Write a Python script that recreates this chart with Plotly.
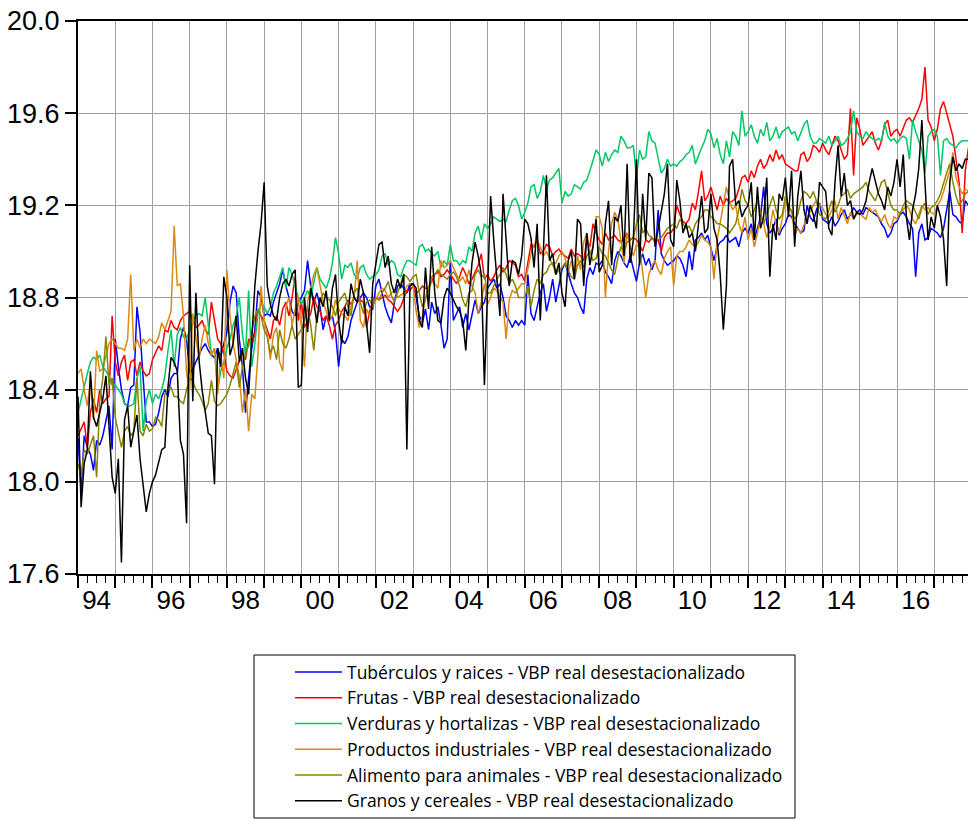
import plotly.graph_objects as go

start_year = 1994
names = [
    "Tubérculos y raices - VBP real desestacionalizado",
    "Frutas - VBP real desestacionalizado",
    "Verduras y hortalizas - VBP real desestacionalizado",
    "Productos industriales - VBP real desestacionalizado",
    "Alimento para animales - VBP real desestacionalizado",
    "Granos y cereales - VBP real desestacionalizado",
]
colors = ["#0000FF", "#FF0000", "#00C864", "#D98A14", "#868600", "#000000"]

tuberculos = [
    18.19, 17.96, 18.20, 18.15, 18.12, 18.05, 18.18, 18.16, 18.20, 18.26, 18.33, 18.14,
    18.62, 18.50, 18.40, 18.34, 18.33, 18.41, 18.42, 18.76, 18.65, 18.45, 18.26, 18.26,
    18.24, 18.25, 18.30, 18.37, 18.40, 18.37, 18.45, 18.47, 18.47, 18.62, 18.67, 18.62,
    18.47, 18.49, 18.52, 18.55, 18.58, 18.60, 18.57, 18.55, 18.54, 18.58, 18.54, 18.60,
    18.65, 18.78, 18.85, 18.82, 18.62, 18.50, 18.30, 18.45, 18.58, 18.66, 18.83, 18.80,
    18.72, 18.73, 18.72, 18.78, 18.82, 18.86, 18.92, 18.85, 18.80, 18.74, 18.72, 18.78,
    18.80, 18.83, 18.96, 18.85, 18.78, 18.82, 18.76, 18.66, 18.72, 18.70, 18.72, 18.65,
    18.50, 18.62, 18.60, 18.63, 18.70, 18.74, 18.78, 18.80, 18.82, 18.80, 18.76, 18.75,
    18.85, 18.88, 18.82, 18.76, 18.72, 18.69, 18.78, 18.85, 18.86, 18.84, 18.82, 18.86,
    18.86, 18.80, 18.72, 18.69, 18.75, 18.66, 18.78, 18.73, 18.76, 18.68, 18.58, 18.62,
    18.96, 18.70, 18.73, 18.76, 18.67, 18.73, 18.66, 18.72, 18.79, 18.73, 18.76, 18.78,
    18.84, 18.86, 18.88, 18.84, 18.86, 18.80, 18.72, 18.70, 18.67, 18.70, 18.68, 18.70,
    18.68, 18.90, 18.73, 18.70, 18.76, 18.82, 18.86, 18.74, 18.80, 18.88, 18.78, 18.85,
    18.92, 18.95, 18.90, 18.86, 18.82, 18.80, 18.76, 18.73, 18.88, 18.93, 18.90, 18.95,
    18.94, 18.96, 18.91, 18.89, 18.86, 18.96, 19.00, 18.98, 18.95, 18.93, 18.98, 18.92,
    18.87, 18.95, 18.99, 18.94, 18.97, 18.92, 18.96, 19.18, 18.99, 18.96, 18.94, 18.95,
    18.96, 18.98, 18.97, 18.94, 18.89, 19.00, 18.92, 19.05, 19.06, 19.08, 19.05, 19.07,
    19.02, 18.96, 19.02, 19.04, 19.05, 19.07, 19.04, 19.05, 19.06, 19.02, 19.08, 19.10,
    19.08, 19.12, 19.05, 19.10, 19.15, 19.28, 19.12, 19.08, 19.10, 19.14, 19.07, 19.10,
    19.12, 19.16, 19.15, 19.12, 19.10, 19.08, 19.09, 19.20, 19.15, 19.13, 19.18, 19.21,
    19.14, 19.13, 19.12, 19.15, 19.11, 19.13, 19.16, 19.18, 19.14, 19.16, 19.19, 19.17,
    19.18, 19.16, 19.19, 19.18, 19.17, 19.16, 19.15, 19.12, 19.10, 19.06, 19.08, 19.12,
    19.13, 19.16, 19.17, 19.15, 19.12, 19.10, 18.89, 19.08, 19.12, 19.05, 19.06, 19.10,
    19.09, 19.08, 19.06, 19.10, 19.18, 19.26, 19.16, 19.15, 19.13, 19.12, 19.22, 19.20,
]

frutas = [
    18.20, 18.23, 18.26, 18.15, 18.30, 18.36, 18.30, 18.40, 18.34, 18.36, 18.37, 18.72,
    18.52, 18.46, 18.52, 18.55, 18.44, 18.52, 18.53, 18.46, 18.52, 18.48, 18.46, 18.47,
    18.53, 18.56, 18.59, 18.57, 18.66, 18.65, 18.70, 18.67, 18.66, 18.70, 18.72, 18.73,
    18.74, 18.70, 18.67, 18.68, 18.70, 18.66, 18.64, 18.78, 18.69, 18.62, 18.60, 18.56,
    18.48, 18.46, 18.45, 18.49, 18.52, 18.56, 18.53, 18.62, 18.60, 18.64, 18.75, 18.72,
    18.70, 18.66, 18.62, 18.70, 18.72, 18.68, 18.75, 18.78, 18.72, 18.80, 18.89, 18.70,
    18.78, 18.67, 18.70, 18.73, 18.80, 18.76, 18.74, 18.70, 18.72, 18.68, 18.62, 18.68,
    18.70, 18.74, 18.76, 18.79, 18.77, 18.80, 18.78, 18.79, 18.78, 18.67, 18.74, 18.78,
    18.80, 18.79, 18.80, 18.81, 18.79, 18.78, 18.76, 18.74, 18.76, 18.80, 18.83, 18.83,
    18.85, 18.82, 18.83, 18.85, 18.84, 18.84, 18.87, 18.90, 18.91, 18.89, 18.90, 18.92,
    18.90, 18.88, 18.86, 18.89, 18.93, 18.90, 18.86, 18.88, 18.91, 18.94, 18.99, 18.88,
    18.90, 18.87, 18.89, 18.92, 18.94, 18.91, 18.93, 18.96, 18.95, 18.94, 18.89, 18.90,
    18.87, 18.95, 19.03, 19.02, 19.05, 18.99, 19.00, 19.03, 19.02, 18.98, 19.00, 19.01,
    18.99, 18.98, 18.97, 19.01, 18.98, 18.99, 18.98, 18.96, 19.05, 19.02, 19.12, 19.08,
    19.05, 19.03, 19.08, 19.05, 19.06, 19.07, 19.05, 19.04, 19.06, 19.08, 19.05, 19.06,
    19.05, 19.03, 19.00, 19.05, 19.04, 19.06, 19.04, 19.05, 19.00, 19.06, 19.08, 19.08,
    19.10, 19.20, 19.16, 19.13, 19.12, 19.14, 19.21, 19.18, 19.26, 19.35, 19.22, 19.24,
    19.28, 19.23, 19.18, 19.24, 19.20, 19.23, 19.21, 19.22, 19.23, 19.27, 19.32, 19.33,
    19.30, 19.35, 19.32, 19.37, 19.40, 19.36, 19.38, 19.42, 19.39, 19.44, 19.40, 19.42,
    19.38, 19.37, 19.36, 19.35, 19.35, 19.42, 19.43, 19.39, 19.41, 19.46, 19.45, 19.43,
    19.47, 19.44, 19.42, 19.46, 19.50, 19.48, 19.44, 19.40, 19.42, 19.62, 19.33, 19.58,
    19.53, 19.46, 19.48, 19.50, 19.52, 19.47, 19.44, 19.48, 19.55, 19.57, 19.50, 19.52,
    19.53, 19.50, 19.54, 19.57, 19.58, 19.56, 19.59, 19.62, 19.66, 19.80, 19.57, 19.54,
    19.48, 19.53, 19.62, 19.65, 19.60, 19.55, 19.50, 19.40, 19.30, 19.08, 19.35, 19.45,
]

verduras = [
    18.30, 18.36, 18.42, 18.47, 18.52, 18.54, 18.53, 18.55, 18.50, 18.48, 18.46, 18.42,
    18.42, 18.40, 18.38, 18.34, 18.33, 18.33, 18.34, 18.45, 18.50, 18.22, 18.35, 18.40,
    18.34, 18.38, 18.36, 18.40, 18.46, 18.57, 18.66, 18.50, 18.64, 18.67, 18.63, 18.62,
    18.66, 18.70, 18.72, 18.73, 18.72, 18.80, 18.68, 18.55, 18.58, 18.40, 18.48, 18.52,
    18.58, 18.62, 18.68, 18.72, 18.80, 18.64, 18.55, 18.83, 18.50, 18.60, 18.73, 18.78,
    18.76, 18.73, 18.76, 18.82, 18.85, 18.89, 18.93, 18.84, 18.93, 18.90, 18.85, 18.80,
    18.77, 18.80, 18.83, 18.80, 18.86, 18.93, 18.88, 18.86, 18.84, 18.88, 18.95, 19.06,
    18.99, 18.88, 18.94, 18.93, 18.95, 18.90, 18.88, 18.93, 18.94, 18.90, 18.88, 18.89,
    18.90, 18.92, 18.98, 18.99, 18.94, 18.96, 18.95, 18.90, 18.89, 18.93, 18.96, 18.96,
    18.95, 18.94, 19.02, 19.03, 19.00, 19.01, 18.99, 18.98, 19.00, 18.93, 18.96, 18.94,
    19.03, 18.96, 18.96, 18.94, 18.96, 18.95, 19.02, 19.00, 19.08, 19.11, 19.05, 19.12,
    19.10, 19.12, 19.15, 19.14, 19.13, 19.14, 19.13, 19.18, 19.22, 19.23, 19.20, 19.14,
    19.17, 19.21, 19.28, 19.29, 19.23, 19.26, 19.33, 19.27, 19.31, 19.32, 19.34, 19.36,
    19.21, 19.26, 19.24, 19.25, 19.29, 19.28, 19.27, 19.30, 19.31, 19.35, 19.40, 19.44,
    19.42, 19.37, 19.43, 19.39, 19.42, 19.44, 19.43, 19.50, 19.48, 19.45, 19.45, 19.46,
    19.32, 19.44, 19.40, 19.41, 19.52, 19.48, 19.47, 19.40, 19.34, 19.36, 19.40, 19.37,
    19.38, 19.37, 19.39, 19.40, 19.42, 19.43, 19.46, 19.38, 19.42, 19.45, 19.48, 19.53,
    19.51, 19.45, 19.49, 19.42, 19.38, 19.48, 19.41, 19.52, 19.50, 19.46, 19.61, 19.50,
    19.52, 19.55, 19.50, 19.47, 19.53, 19.50, 19.56, 19.48, 19.50, 19.54, 19.49, 19.52,
    19.53, 19.54, 19.51, 19.52, 19.48, 19.52, 19.55, 19.57, 19.50, 19.47, 19.47, 19.49,
    19.48, 19.47, 19.50, 19.46, 19.48, 19.50, 19.46, 19.47, 19.49, 19.52, 19.61, 19.52,
    19.50, 19.49, 19.52, 19.50, 19.49, 19.48, 19.49, 19.48, 19.56, 19.50, 19.48, 19.49,
    19.47, 19.49, 19.50, 19.49, 19.40, 19.57, 19.52, 19.48, 19.44, 19.34, 19.50, 19.52,
    19.53, 19.50, 19.33, 19.48, 19.49, 19.47, 19.46, 19.45, 19.47, 19.48, 19.48, 19.48,
]

industriales = [
    18.47, 18.49, 18.40, 18.33, 18.44, 18.27, 18.57, 18.48, 18.49, 18.55, 18.60, 18.62,
    18.60, 18.58, 18.58, 18.57, 18.62, 18.90, 18.57, 18.62, 18.58, 18.62, 18.60, 18.62,
    18.61, 18.60, 18.63, 18.69, 18.66, 18.70, 18.74, 19.11, 18.85, 18.86, 18.72, 18.47,
    18.40, 18.73, 18.62, 18.53, 18.62, 18.68, 18.60, 18.55, 18.58, 18.38, 18.55, 18.45,
    18.92, 18.72, 18.60, 18.53, 18.46, 18.30, 18.40, 18.22, 18.38, 18.36, 18.55, 18.85,
    18.70, 18.64, 18.53, 18.64, 18.67, 18.52, 18.48, 18.76, 18.80, 18.68, 18.75, 18.80,
    18.67, 18.50, 18.78, 18.84, 18.90, 18.93, 18.85, 18.78, 18.74, 18.70, 18.72, 18.79,
    18.75, 18.73, 18.72, 18.70, 18.76, 18.80, 18.96, 18.70, 18.67, 18.75, 18.72, 18.78,
    18.79, 18.82, 18.84, 18.83, 18.80, 18.82, 18.83, 18.80, 18.81, 18.82, 18.85, 18.86,
    18.85, 18.74, 18.67, 18.72, 18.80, 18.85, 18.87, 18.86, 18.84, 18.96, 18.93, 18.94,
    18.96, 18.93, 18.90, 18.87, 18.89, 18.86, 18.92, 18.85, 18.82, 18.73, 18.78, 18.86,
    18.77, 18.80, 18.84, 18.83, 18.80, 18.78, 18.62, 18.79, 18.83, 18.82, 18.84, 18.86,
    18.86, 18.92, 18.99, 19.03, 19.05, 19.02, 18.98, 19.00, 18.97, 18.94, 18.95, 18.98,
    19.00, 18.97, 18.91, 18.96, 18.88, 18.98, 18.92, 19.04, 19.08, 18.99, 19.02, 19.15,
    19.15, 19.10, 18.80, 19.00, 19.12, 19.17, 19.14, 19.05, 18.95, 19.08, 19.02, 18.98,
    19.03, 19.02, 18.92, 18.80, 18.90, 18.94, 18.96, 18.92, 18.90, 18.97, 19.00, 19.02,
    18.85, 18.98, 19.00, 19.00, 19.02, 19.05, 19.03, 19.02, 19.04, 19.07, 19.05, 19.04,
    19.02, 18.88, 19.05, 19.12, 19.20, 19.28, 19.22, 19.18, 19.20, 19.12, 19.08, 19.15,
    19.05, 19.10, 19.02, 19.08, 19.15, 19.12, 19.06, 19.10, 19.18, 19.12, 19.08, 19.14,
    19.22, 19.19, 19.18, 19.07, 19.10, 19.08, 19.12, 19.15, 19.17, 19.20, 19.22, 19.20,
    19.19, 19.16, 19.15, 19.18, 19.22, 19.14, 19.19, 19.15, 19.12, 19.17, 19.14, 19.16,
    19.17, 19.15, 19.14, 19.19, 19.17, 19.18, 19.15, 19.13, 19.16, 19.12, 19.10, 19.15,
    19.14, 19.17, 19.18, 19.20, 19.18, 19.14, 19.12, 19.16, 19.20, 19.18, 19.19, 19.17,
    19.16, 19.20, 19.22, 19.26, 19.30, 19.35, 19.43, 19.32, 19.28, 19.25, 19.27, 19.26,
]

animales = [
    18.08, 18.02, 18.14, 18.12, 18.16, 18.20, 18.02, 18.35, 18.45, 18.63, 18.42, 18.45,
    18.28, 18.21, 18.15, 18.22, 18.24, 18.20, 18.22, 18.45, 18.22, 18.20, 18.25, 18.22,
    18.23, 18.28, 18.27, 18.24, 18.38, 18.40, 18.41, 18.37, 18.37, 18.35, 18.34, 18.40,
    18.45, 18.44, 18.40, 18.38, 18.35, 18.31, 18.34, 18.44, 18.35, 18.33, 18.34, 18.36,
    18.38, 18.42, 18.47, 18.52, 18.41, 18.50, 18.56, 18.59, 18.65, 18.72, 18.75, 18.72,
    18.66, 18.63, 18.56, 18.59, 18.53, 18.66, 18.60, 18.58, 18.62, 18.68, 18.62, 18.64,
    18.66, 18.70, 18.76, 18.68, 18.57, 18.72, 18.78, 18.82, 18.80, 18.79, 18.76, 18.72,
    18.78, 18.80, 18.82, 18.76, 18.72, 18.82, 18.84, 18.78, 18.73, 18.78, 18.79, 18.76,
    18.80, 18.79, 18.82, 18.84, 18.87, 18.81, 18.78, 18.82, 18.86, 18.90, 18.89, 18.87,
    18.89, 18.90, 18.82, 18.76, 18.79, 18.83, 18.89, 18.90, 18.92, 18.90, 18.89, 18.88,
    18.90, 18.91, 18.89, 18.85, 18.79, 18.76, 18.82, 18.83, 18.90, 18.92, 18.89, 18.90,
    18.82, 18.82, 18.85, 18.88, 18.90, 18.93, 18.90, 18.86, 18.88, 18.85, 18.80, 18.80,
    18.80, 18.85, 18.76, 18.83, 18.88, 18.86, 18.90, 18.91, 18.94, 18.95, 18.90, 18.92,
    18.93, 18.95, 18.92, 18.89, 18.88, 18.94, 18.96, 18.93, 18.98, 19.00, 18.96, 18.97,
    19.02, 18.99, 18.98, 18.95, 18.92, 18.90, 18.97, 19.02, 19.00, 19.04, 19.05, 19.06,
    19.12, 19.16, 19.08, 19.10, 19.07, 19.06, 19.04, 19.05, 19.06, 19.08, 19.10, 19.11,
    19.12, 19.10, 19.14, 19.12, 19.10, 19.11, 19.08, 19.12, 19.14, 19.15, 19.18, 19.18,
    19.15, 19.14, 19.12, 19.12, 19.11, 19.10, 19.08, 19.10, 19.12, 19.18, 19.27, 19.22,
    19.20, 19.15, 19.18, 19.22, 19.17, 19.12, 19.16, 19.20, 19.24, 19.18, 19.14, 19.16,
    19.24, 19.20, 19.17, 19.14, 19.16, 19.22, 19.26, 19.25, 19.23, 19.26, 19.22, 19.16,
    19.15, 19.14, 19.18, 19.22, 19.17, 19.20, 19.24, 19.25, 19.27, 19.23, 19.25, 19.26,
    19.27, 19.28, 19.30, 19.26, 19.24, 19.22, 19.26, 19.30, 19.31, 19.25, 19.20, 19.18,
    19.18, 19.16, 19.20, 19.22, 19.21, 19.20, 19.17, 19.14, 19.19, 19.21, 19.16, 19.19,
    19.20, 19.22, 19.25, 19.30, 19.34, 19.38, 19.30, 19.24, 19.20, 19.22, 19.25, 19.26,
]

granos = [
    18.37, 17.89, 18.08, 18.14, 18.48, 18.28, 18.24, 18.30, 18.36, 18.46, 18.26, 18.02,
    17.95, 18.10, 17.65, 18.27, 18.33, 18.15, 18.22, 18.29, 18.10, 17.99, 17.87, 17.95,
    18.00, 18.03, 18.08, 18.14, 18.15, 18.41, 18.54, 18.52, 18.48, 18.18, 18.12, 17.82,
    18.94, 18.35, 18.82, 18.53, 18.40, 18.30, 18.21, 18.20, 17.99, 18.58, 18.50, 18.89,
    18.80, 18.55, 18.60, 18.72, 18.52, 18.58, 18.45, 18.38, 18.62, 18.85, 19.00, 19.12,
    19.30, 18.85, 18.77, 18.72, 18.70, 18.80, 18.86, 18.88, 18.85, 18.90, 18.92, 18.41,
    18.42, 18.80, 18.65, 18.84, 18.78, 18.69, 18.80, 18.76, 18.83, 18.70, 18.84, 18.90,
    18.70, 18.60, 18.76, 18.72, 18.86, 18.80, 18.78, 18.88, 18.82, 18.70, 18.56, 18.86,
    18.95, 19.03, 19.04, 18.93, 18.98, 18.86, 18.82, 18.88, 18.84, 18.90, 18.14, 18.85,
    18.86, 18.84, 18.70, 18.67, 18.93, 18.75, 19.02, 18.82, 18.70, 18.69, 18.80, 18.84,
    18.82, 18.79, 18.76, 18.74, 18.70, 18.57, 18.79, 18.95, 19.04, 18.98, 18.90, 18.42,
    18.82, 19.24, 19.05, 18.90, 18.72, 19.25, 19.05, 18.85, 18.96, 18.95, 18.90, 18.98,
    19.14, 19.12, 19.06, 18.93, 19.12, 18.70, 19.00, 19.33, 18.96, 18.99, 18.90, 18.95,
    18.82, 18.76, 18.96, 19.00, 18.88, 19.14, 19.12, 18.85, 19.08, 18.94, 19.02, 19.14,
    18.91, 18.94, 19.12, 19.22, 18.94, 19.15, 19.13, 19.20, 18.98, 19.38, 18.95, 19.05,
    19.40, 18.94, 19.25, 19.05, 19.34, 19.32, 19.02, 19.10, 19.18, 19.25, 19.38, 19.05,
    19.02, 19.31, 19.22, 19.08, 19.12, 19.06, 19.08, 19.00, 19.12, 19.24, 19.08, 19.10,
    19.25, 19.10, 19.05, 18.90, 18.66, 18.85, 19.37, 19.40, 19.20, 19.22, 19.15, 19.18,
    19.20, 19.30, 19.05, 19.28, 19.10, 19.15, 19.32, 18.89, 19.12, 19.05, 19.25, 19.22,
    19.32, 19.15, 19.35, 19.02, 19.24, 19.35, 19.18, 19.12, 19.20, 19.16, 19.10, 19.30,
    19.28, 19.26, 19.10, 19.07, 19.30, 19.46, 19.24, 19.34, 19.20, 19.22, 19.14, 19.17,
    19.16, 19.18, 19.22, 19.30, 19.36, 19.30, 19.25, 19.22, 19.18, 19.28, 19.24, 19.30,
    19.40, 19.28, 19.42, 19.15, 19.05, 19.18, 19.25, 19.36, 19.57, 19.30, 19.05, 19.15,
    19.10, 19.20, 19.15, 19.05, 18.85, 19.30, 19.41, 19.35, 19.38, 19.36, 19.40, 19.40,
]

series = [tuberculos, frutas, verduras, industriales, animales, granos]

year_ticks = list(range(1994, 2018))
label_years = list(range(1994, 2018, 2))
label_text = [f"{y % 100:02d}" for y in label_years]
y_ticks = [17.6, 18.0, 18.4, 18.8, 19.2, 19.6, 20.0]

n = len(tuberculos)
months = [start_year + i / 12.0 for i in range(n)]

fig = go.Figure()
for name, col, vals in zip(names, colors, series):
    fig.add_trace(go.Scatter(x=months, y=vals, mode="lines", name=name,
                             line=dict(color=col, width=1.5)))

# helper trace so the label axis is drawn
fig.add_trace(go.Scatter(x=[1994, 2017.9], y=[None, None], xaxis="x2",
                         showlegend=False, hoverinfo="skip", mode="lines"))

W, H = 968, 820
L, R, T, B = 78, 0, 21, 246
xr = [1994.0, 2017.906]
fig.update_layout(
    width=W, height=H,
    margin=dict(l=L, r=R, t=T, b=B, autoexpand=False),
    paper_bgcolor="white", plot_bgcolor="white",
    font=dict(family="Liberation Sans, Arial, sans-serif", color="black"),
    xaxis=dict(range=xr, tickmode="array", tickvals=year_ticks, showticklabels=False,
               ticks="outside", ticklen=12, tickwidth=1.5, tickcolor="black",
               showgrid=True, gridcolor="#a0a0a0", gridwidth=1,
               showline=True, linecolor="black", linewidth=2, mirror=True,
               zeroline=False, automargin=False,
               minor=dict(dtick=0.25, tick0=1994, ticks="outside", ticklen=7,
                          tickwidth=1.2, tickcolor="black", showgrid=False)),
    xaxis2=dict(range=xr, overlaying="x", anchor="y", side="bottom",
                tickmode="array", tickvals=[y + 0.5 for y in label_years],
                ticktext=label_text, ticks="", showgrid=False, showline=False,
                zeroline=False, ticklabelstandoff=8, automargin=False,
                tickfont=dict(size=26, family="Liberation Sans, Arial")),
    yaxis=dict(range=[17.6, 20.0], tickmode="array", tickvals=y_ticks,
               ticktext=[f"{v:.1f}" for v in y_ticks],
               ticks="outside", ticklen=11, tickwidth=1.5, tickcolor="black",
               showgrid=True, gridcolor="#a0a0a0", gridwidth=1,
               showline=True, linecolor="black", linewidth=2, zeroline=False,
               automargin=False,
               tickfont=dict(size=27, family="Liberation Sans, Arial")),
    legend=dict(xref="container", yref="container",
                x=290 / W, y=1 - 654 / H, xanchor="left", yanchor="top",
                bgcolor="rgba(0,0,0,0)", borderwidth=0, itemwidth=47,
                font=dict(size=17.5, family="Open Sans, Lato, sans-serif", color="black"),
                traceorder="normal", itemclick=False),
    shapes=[dict(type="rect", xref="paper", yref="paper",
                 x0=(254 - L) / (W - L - R), x1=(795 - L) / (W - L - R),
                 y0=(H - B - 818) / (H - T - B), y1=(H - B - 655) / (H - T - B),
                 line=dict(color="black", width=1), fillcolor="rgba(0,0,0,0)")],
    showlegend=True,
)

fig.write_html("out.html",
               config={"displayModeBar": False},
               post_script="document.body.style.margin='0';document.body.style.padding='0';")
